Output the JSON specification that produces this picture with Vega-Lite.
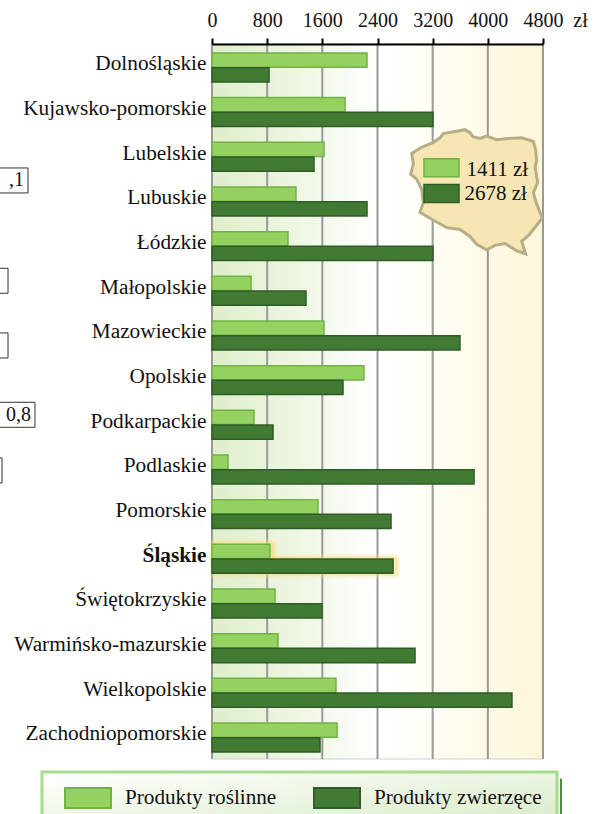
{
"$schema":"https://vega.github.io/schema/vega-lite/v6.json",
"width":331,"height":715,"autosize":"none",
"padding":{"left":212,"top":44,"right":55,"bottom":55},
"background":"white",
"config":{"view":{"stroke":null},"font":"Liberation Serif","text":{"font":"Liberation Serif"}},
"datasets":{
"bars":[
{"region":"Dolnośląskie","series":"Produkty roślinne","value":2248},{"region":"Dolnośląskie","series":"Produkty zwierzęce","value":827},
{"region":"Kujawsko-pomorskie","series":"Produkty roślinne","value":1929},{"region":"Kujawsko-pomorskie","series":"Produkty zwierzęce","value":3205},
{"region":"Lubelskie","series":"Produkty roślinne","value":1624},{"region":"Lubelskie","series":"Produkty zwierzęce","value":1479},
{"region":"Lubuskie","series":"Produkty roślinne","value":1218},{"region":"Lubuskie","series":"Produkty zwierzęce","value":2248},
{"region":"Łódzkie","series":"Produkty roślinne","value":1102},{"region":"Łódzkie","series":"Produkty zwierzęce","value":3205},
{"region":"Małopolskie","series":"Produkty roślinne","value":566},{"region":"Małopolskie","series":"Produkty zwierzęce","value":1363},
{"region":"Mazowieckie","series":"Produkty roślinne","value":1624},{"region":"Mazowieckie","series":"Produkty zwierzęce","value":3596},
{"region":"Opolskie","series":"Produkty roślinne","value":2204},{"region":"Opolskie","series":"Produkty zwierzęce","value":1900},
{"region":"Podkarpackie","series":"Produkty roślinne","value":609},{"region":"Podkarpackie","series":"Produkty zwierzęce","value":885},
{"region":"Podlaskie","series":"Produkty roślinne","value":232},{"region":"Podlaskie","series":"Produkty zwierzęce","value":3800},
{"region":"Pomorskie","series":"Produkty roślinne","value":1537},{"region":"Pomorskie","series":"Produkty zwierzęce","value":2596},
{"region":"Śląskie","series":"Produkty roślinne","value":841},{"region":"Śląskie","series":"Produkty zwierzęce","value":2625},
{"region":"Świętokrzyskie","series":"Produkty roślinne","value":914},{"region":"Świętokrzyskie","series":"Produkty zwierzęce","value":1595},
{"region":"Warmińsko-mazurskie","series":"Produkty roślinne","value":957},{"region":"Warmińsko-mazurskie","series":"Produkty zwierzęce","value":2944},
{"region":"Wielkopolskie","series":"Produkty roślinne","value":1798},{"region":"Wielkopolskie","series":"Produkty zwierzęce","value":4350},
{"region":"Zachodniopomorskie","series":"Produkty roślinne","value":1813},{"region":"Zachodniopomorskie","series":"Produkty zwierzęce","value":1566}
],
"ticks":[{"t":0},{"t":800},{"t":1600},{"t":2400},{"t":3200},{"t":4000},{"t":4800}],
"boxes":[
{"region":"Lubuskie","start":-3600,"end":-2668,"label":",1"},
{"region":"Małopolskie","start":-3600,"end":-2958,"label":""},
{"region":"Mazowieckie","start":-3600,"end":-2958,"label":""},
{"region":"Podkarpackie","start":-3600,"end":-2567,"label":"0,8"},
{"region":"Podlaskie","start":-3600,"end":-3045,"label":""}
]
},
"layer":[
{"data":{"values":[{"a":0,"b":4800}]},
 "mark":{"type":"rect","stroke":"#cfcfcf","strokeWidth":1,"fill":{"gradient":"linear","x1":0,"x2":1,"y1":0,"y2":0,"stops":[{"offset":0,"color":"#dfeecb"},{"offset":0.25,"color":"#eef6e2"},{"offset":0.5,"color":"#ffffff"},{"offset":0.7,"color":"#fffdf3"},{"offset":1,"color":"#fdf6d8"}]}},
 "encoding":{"x":{"field":"a","type":"quantitative","title":"zł","scale":{"domain":[0,4800],"nice":false,"zero":false},
   "axis":{"orient":"top","values":[0,800,1600,2400,3200,4000,4800],"grid":false,"format":"d","domainColor":"black","domainWidth":2,"tickColor":"black","tickWidth":2,"tickSize":6,"labelFont":"Liberation Serif","labelFontSize":20,"labelColor":"#111","labelPadding":8,"labelFlush":false,"labelOverlap":false,"titleFont":"Liberation Serif","titleFontSize":20,"titleFontWeight":"normal","titleColor":"#111","titleX":368,"titleY":-14,"titleAngle":0,"zindex":1}},
  "x2":{"field":"b"}}},
{"data":{"name":"ticks"},"mark":{"type":"rule","stroke":"#999999","strokeWidth":2},"encoding":{"x":{"field":"t","type":"quantitative","title":"zł"}}},
{"data":{"name":"bars"},"transform":[{"filter":"datum.region==='Śląskie'"}],
 "mark":{"type":"bar","stroke":"#fde08a","fill":"#fde08a","strokeWidth":10,"opacity":0.25,"strokeJoin":"round","yOffset":-3,"xOffset":2},
 "encoding":{"x":{"field":"value","type":"quantitative","title":"zł"},"y":{"field":"region","type":"nominal","sort":null,"title":null},"yOffset":{"field":"series","sort":null}}},
{"data":{"name":"bars"},"transform":[{"filter":"datum.region==='Śląskie'"}],
 "mark":{"type":"bar","stroke":"#fdd877","fill":"#fdd877","strokeWidth":5,"opacity":0.45,"strokeJoin":"round","yOffset":-3,"xOffset":2},
 "encoding":{"x":{"field":"value","type":"quantitative","title":"zł"},"y":{"field":"region","type":"nominal","sort":null,"title":null},"yOffset":{"field":"series","sort":null}}},
{"data":{"name":"bars"},
 "mark":{"type":"bar","strokeWidth":1.5},
 "encoding":{
  "x":{"field":"value","type":"quantitative","title":"zł"},
  "y":{"field":"region","type":"nominal","sort":null,"title":null,
    "scale":{"paddingInner":0.351,"paddingOuter":0.179,"align":0.56,"domain":["Dolnośląskie","Kujawsko-pomorskie","Lubelskie","Lubuskie","Łódzkie","Małopolskie","Mazowieckie","Opolskie","Podkarpackie","Podlaskie","Pomorskie","Śląskie","Świętokrzyskie","Warmińsko-mazurskie","Wielkopolskie","Zachodniopomorskie"]},
    "axis":{"domain":false,"ticks":false,"grid":false,"labelFont":"Liberation Serif","labelFontSize":21.3,"labelColor":"#111","labelPadding":6,"labelOffset":-3,"labelLimit":300,"labelFontWeight":{"condition":{"test":"datum.value==='Śląskie'","value":"bold"},"value":"normal"}}},
  "yOffset":{"field":"series","sort":null,"scale":{"domain":["Produkty roślinne","Produkty zwierzęce"],"paddingInner":0.03}},
  "fill":{"field":"series","type":"nominal","title":null,"scale":{"domain":["Produkty roślinne","Produkty zwierzęce"],"range":["#94d160","#407a33"]},
    "legend":{"orient":"none","legendX":-170,"legendY":728,"direction":"horizontal","title":null,"padding":15,"columnPadding":29,"labelFont":"Liberation Serif","labelFontSize":21.2,"labelColor":"#111","labelOffset":39,"labelLimit":300,"symbolType":"M-1,-1H3.6V1H-1Z","symbolSize":400,"symbolOffset":7,"symbolStrokeWidth":2,"symbolOpacity":1,"strokeColor":"#a8da90",
      "encode":{"legend":{"update":{"fill":{"value":{"gradient":"linear","x1":0,"x2":1,"y1":0,"y2":1,"stops":[{"offset":0,"color":"#ffffff"},{"offset":1,"color":"#d8ebc6"}]}},"strokeWidth":{"value":3}}}}}},
  "stroke":{"field":"series","type":"nominal","title":null,"scale":{"domain":["Produkty roślinne","Produkty zwierzęce"],"range":["#70b344","#2f5c28"]}}
 }},
{"data":{"values":[{"type":"Feature","properties":{},"geometry":{"type":"Polygon","coordinates":[[[14.17,53.78],[14.93,54.06],[15.82,54.28],[16.33,54.48],[16.58,54.67],[17.47,54.76],[18.23,54.84],[18.61,54.71],[18.87,54.52],[19.38,54.45],[19.88,54.56],[20.65,54.4],[21.53,54.45],[22.55,54.48],[23.44,54.32],[23.62,53.93],[23.69,53.46],[23.57,53.15],[23.77,52.45],[23.44,51.98],[23.69,51.44],[24.12,50.78],[23.69,50.42],[23.11,49.95],[22.55,49.64],[22.85,49.02],[22.17,49.17],[21.28,49.53],[20.52,49.44],[19.88,49.22],[19.12,49.49],[18.61,49.88],[17.85,50.22],[16.84,50.31],[16.07,50.58],[15.44,50.81],[14.8,51.05],[15.06,51.51],[14.93,52.14],[14.55,52.61],[14.09,52.84],[14.3,53.31],[14.17,53.78]]]}}]},
 "projection":{"type":"mercator","scale":752,"translate":[13.7,950]},
 "mark":{"type":"geoshape","fill":"#f5e6b3","stroke":"#b7ae88","strokeWidth":3,"strokeJoin":"miter"}},
{"data":{"values":[{"region":"Lubelskie","start":3074,"end":3582}]},
 "mark":{"type":"bar","height":18,"yOffset":11,"fill":"#94d160","stroke":"#70b344","strokeWidth":1.5},
 "encoding":{"x":{"field":"start","type":"quantitative","title":"zł"},"x2":{"field":"end"},"y":{"field":"region","type":"nominal","sort":null,"title":null}}},
{"data":{"values":[{"region":"Lubuskie","start":3074,"end":3582}]},
 "mark":{"type":"bar","height":18,"yOffset":-8,"fill":"#407a33","stroke":"#2f5c28","strokeWidth":1.5},
 "encoding":{"x":{"field":"start","type":"quantitative","title":"zł"},"x2":{"field":"end"},"y":{"field":"region","type":"nominal","sort":null,"title":null}}},
{"data":{"values":[{"region":"Lubelskie","at":3690,"label":"1411 zł"}]},
 "mark":{"type":"text","align":"left","baseline":"middle","fontSize":21,"yOffset":13,"color":"#111"},
 "encoding":{"x":{"field":"at","type":"quantitative","title":"zł"},"y":{"field":"region","type":"nominal","sort":null,"title":null},"text":{"field":"label"}}},
{"data":{"values":[{"region":"Lubuskie","at":3660,"label":"2678 zł"}]},
 "mark":{"type":"text","align":"left","baseline":"middle","fontSize":21,"yOffset":-7,"color":"#111"},
 "encoding":{"x":{"field":"at","type":"quantitative","title":"zł"},"y":{"field":"region","type":"nominal","sort":null,"title":null},"text":{"field":"label"}}},
{"data":{"name":"boxes"},"transform":[{"filter":"datum.region==='Lubuskie'"}],
 "mark":{"type":"bar","height":25,"yOffset":-21,"fill":"white","stroke":"#333","strokeWidth":1},
 "encoding":{"x":{"field":"start","type":"quantitative","title":"zł"},"x2":{"field":"end"},"y":{"field":"region","type":"nominal","sort":null,"title":null}}},
{"data":{"name":"boxes"},"transform":[{"filter":"datum.region==='Małopolskie'||datum.region==='Podkarpackie'"}],
 "mark":{"type":"bar","height":25,"yOffset":-10,"fill":"white","stroke":"#333","strokeWidth":1},
 "encoding":{"x":{"field":"start","type":"quantitative","title":"zł"},"x2":{"field":"end"},"y":{"field":"region","type":"nominal","sort":null,"title":null}}},
{"data":{"name":"boxes"},"transform":[{"filter":"datum.region==='Mazowieckie'"}],
 "mark":{"type":"bar","height":25,"yOffset":10,"fill":"white","stroke":"#333","strokeWidth":1},
 "encoding":{"x":{"field":"start","type":"quantitative","title":"zł"},"x2":{"field":"end"},"y":{"field":"region","type":"nominal","sort":null,"title":null}}},
{"data":{"name":"boxes"},"transform":[{"filter":"datum.region==='Podlaskie'"}],
 "mark":{"type":"bar","height":25,"yOffset":1,"fill":"white","stroke":"#333","strokeWidth":1},
 "encoding":{"x":{"field":"start","type":"quantitative","title":"zł"},"x2":{"field":"end"},"y":{"field":"region","type":"nominal","sort":null,"title":null}}},
{"data":{"name":"boxes"},"transform":[{"filter":"datum.region==='Lubuskie'"}],
 "mark":{"type":"text","align":"right","baseline":"middle","dx":-4,"fontSize":20,"yOffset":-21,"color":"#111"},
 "encoding":{"x":{"field":"end","type":"quantitative","title":"zł"},"y":{"field":"region","type":"nominal","sort":null,"title":null},"text":{"field":"label"}}},
{"data":{"name":"boxes"},"transform":[{"filter":"datum.region==='Podkarpackie'"}],
 "mark":{"type":"text","align":"right","baseline":"middle","dx":-4,"fontSize":20,"yOffset":-10,"color":"#111"},
 "encoding":{"x":{"field":"end","type":"quantitative","title":"zł"},"y":{"field":"region","type":"nominal","sort":null,"title":null},"text":{"field":"label"}}},
{"data":{"values":[{"region":"Zachodniopomorskie","start":5046,"end":5075}]},
 "mark":{"type":"bar","height":36,"yOffset":59,"fill":"#4f8a3f"},
 "encoding":{"x":{"field":"start","type":"quantitative","title":"zł"},"x2":{"field":"end"},"y":{"field":"region","type":"nominal","sort":null,"title":null}}}
],
"resolve":{"scale":{"fill":"shared","stroke":"shared"}}
}
